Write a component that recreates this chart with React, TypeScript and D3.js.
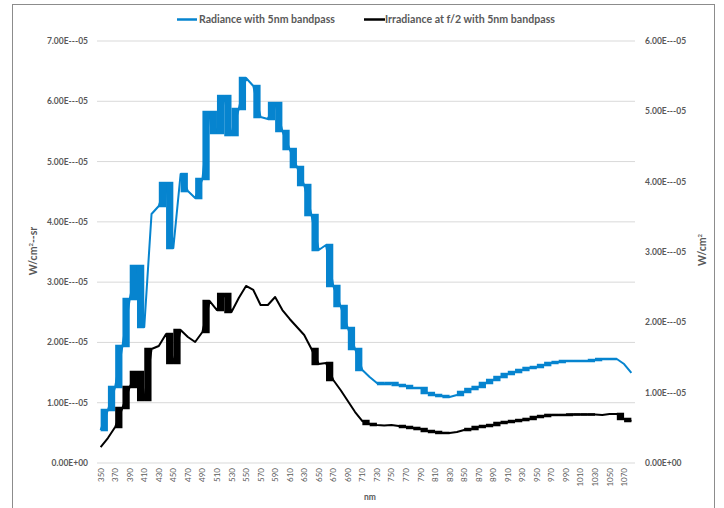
import React from 'react';
import * as d3 from 'd3';

// wavelength categories (nm)
const wavelengths = [
  350, 360, 370, 380, 390, 400, 410, 420, 430, 440, 450, 460, 470, 480, 490, 500, 510, 520, 530, 540,
  550, 560, 570, 580, 590, 600, 610, 620, 630, 640, 650, 660, 670, 680, 690, 700, 710, 720, 730, 740,
  750, 760, 770, 780, 790, 800, 810, 820, 830, 840, 850, 860, 870, 880, 890, 900, 910, 920, 930, 940,
  950, 960, 970, 980, 990, 1000, 1010, 1020, 1030, 1040, 1050, 1060, 1070, 1080,
];

// values in units of 1E-05
const radiance = [
  0.547, 0.879, 1.261, 1.941, 2.72, 3.268, 2.256, 4.13, 4.263, 4.644, 3.566, 4.793, 4.511, 4.395, 4.711,
  5.822, 5.474, 6.087, 5.44, 5.872, 6.386, 6.253, 5.739, 5.706, 5.971, 5.507, 5.208, 4.91, 4.611, 4.113,
  3.533, 3.616, 2.936, 2.604, 2.239, 1.891, 1.543, 1.426, 1.327, 1.31, 1.327, 1.294, 1.277, 1.244, 1.244,
  1.161, 1.128, 1.111, 1.095, 1.128, 1.178, 1.227, 1.261, 1.327, 1.377, 1.426, 1.476, 1.509, 1.543,
  1.576, 1.592, 1.625, 1.659, 1.675, 1.692, 1.692, 1.692, 1.692, 1.708, 1.725, 1.725, 1.725, 1.642, 1.493,
];

const irradiance = [
  0.227, 0.355, 0.512, 0.782, 1.081, 1.294, 0.896, 1.621, 1.664, 1.834, 1.422, 1.891, 1.792, 1.72, 1.863,
  2.303, 2.175, 2.403, 2.147, 2.346, 2.517, 2.46, 2.247, 2.247, 2.36, 2.175, 2.048, 1.934, 1.82, 1.621,
  1.408, 1.422, 1.18, 1.038, 0.882, 0.725, 0.597, 0.555, 0.54, 0.533, 0.54, 0.526, 0.512, 0.498, 0.483,
  0.455, 0.441, 0.427, 0.427, 0.441, 0.469, 0.483, 0.512, 0.526, 0.54, 0.569, 0.583, 0.597, 0.611,
  0.626, 0.654, 0.668, 0.683, 0.683, 0.683, 0.69, 0.69, 0.69, 0.69, 0.683, 0.697, 0.697, 0.626, 0.597,
];

// segments (start index) drawn as filled bands
const radianceBands = [
  0, 1, 2, 3, 4, 5, 8, 9, 11, 13, 14, 15, 16, 17, 18, 19, 21, 23, 24, 25, 26, 27, 28, 29, 31, 32, 33, 34, 35,
  38, 39, 40, 41, 42, 43, 44, 45, 46, 47, 49, 50, 51, 52, 53, 54, 55, 56, 57, 58, 59, 60, 61, 62, 63, 64, 65,
  66, 67, 68, 69, 70,
];
const irradianceBands = [
  2, 3, 4, 5, 6, 9, 10, 14, 16, 17, 29, 31, 36, 37, 41, 42, 43, 44, 45, 46, 47, 50, 51, 52, 53, 54, 55, 56,
  57, 58, 59, 60, 61, 62, 63, 64, 65, 66, 67, 71, 72,
];

const leftTicks = [0, 1, 2, 3, 4, 5, 6, 7];
const rightTicks = [0, 1, 2, 3, 4, 5, 6];

const seriesNames = ['Radiance with 5nm bandpass', 'Irradiance at f/2 with 5nm bandpass'];
const BLUE = '#0684cf';
const TEXT = '#595959';

const fmt = (v: number) => (v === 0 ? '0.00E+00' : `${v.toFixed(2)}E---05`);

export default function App() {
  const width = 724;
  const height = 508;
  const top = 41;
  const bottom = 463;

  const x = d3.scaleBand<number>().domain(wavelengths).range([97, 635]);
  const cx = (i: number) => (x(wavelengths[i]) as number) + x.bandwidth() / 2;
  const yL = d3.scaleLinear().domain([0, 7]).range([bottom, top]);
  const yR = d3.scaleLinear().domain([0, 6]).range([bottom, top]);

  const line = (y: d3.ScaleLinear<number, number>) =>
    d3
      .line<number>()
      .x((_, i) => cx(i))
      .y((d) => y(d));

  const bands = (vals: number[], idx: number[], y: d3.ScaleLinear<number, number>, sw: number, color: string) =>
    idx.map((i) => {
      const y0 = Math.min(y(vals[i]), y(vals[i + 1])) - sw / 2;
      const y1 = Math.max(y(vals[i]), y(vals[i + 1])) + sw / 2;
      return <rect key={i} x={cx(i)} y={y0} width={cx(i + 1) - cx(i)} height={y1 - y0} fill={color} />;
    });

  return (
    <svg
      width={width}
      height={height}
      style={{ position: 'absolute', left: 0, top: 0, background: '#fff' }}
      fontFamily="Lato, 'Noto Sans', sans-serif"
    >
      <rect x={12.5} y={4.5} width={702} height={520} fill="#fff" stroke="#8c8c8c" />

      {/* legend */}
      <g fontSize={10.5} fontWeight="bold" fill={TEXT}>
        <line x1={177} x2={197} y1={19.5} y2={19.5} stroke={BLUE} strokeWidth={2.5} />
        <text x={199} y={23.3} textLength={136} lengthAdjust="spacingAndGlyphs">{seriesNames[0]}</text>
        <line x1={364} x2={385} y1={19.5} y2={19.5} stroke="#000" strokeWidth={2.5} />
        <text x={385} y={23.3} textLength={170} lengthAdjust="spacingAndGlyphs">{seriesNames[1]}</text>
      </g>

      {/* gridlines */}
      {leftTicks.map((t) => (
        <line key={t} x1={97} x2={635} y1={yL(t)} y2={yL(t)} stroke="#d9d9d9" strokeWidth={1} />
      ))}

      {/* left axis labels */}
      <g fontSize={8.5} fontWeight="bold" fill={TEXT} textAnchor="end">
        {leftTicks.map((t) => (
          <text key={t} x={88} y={yL(t) + 3}>{fmt(t)}</text>
        ))}
      </g>
      {/* right axis labels */}
      <g fontSize={8.5} fontWeight="bold" fill={TEXT} textAnchor="start">
        {rightTicks.map((t) => (
          <text key={t} x={645} y={yR(t) + 3}>{fmt(t)}</text>
        ))}
      </g>

      {/* x labels */}
      <g fontSize={8} fill={TEXT} textAnchor="end">
        {wavelengths.map((w, i) =>
          i % 2 === 0 && i < 73 ? (
            <text key={w} transform={`translate(${cx(i) + 3},468) rotate(-90)`}>{w}</text>
          ) : null
        )}
      </g>

      {/* axis titles */}
      <text x={370} y={500} fontSize={8.5} fontWeight="bold" fill={TEXT} textAnchor="middle">nm</text>
      <text transform="translate(37,251) rotate(-90)" fontSize={10.5} fontWeight="bold" fill={TEXT} textAnchor="middle">
        W/cm<tspan fontSize={6} dy={-4}>2</tspan><tspan dy={4}>--sr</tspan>
      </text>
      <text transform="translate(706,250) rotate(-90)" fontSize={10.5} fontWeight="bold" fill={TEXT} textAnchor="middle">
        W/cm<tspan fontSize={6} dy={-4}>2</tspan>
      </text>

      {/* series */}
      <path d={line(yL)(radiance) || ''} fill="none" stroke={BLUE} strokeWidth={2} strokeLinejoin="round" />
      {bands(radiance, radianceBands, yL, 2.5, BLUE)}
      <path d={line(yR)(irradiance) || ''} fill="none" stroke="#000" strokeWidth={2} strokeLinejoin="round" />
      {bands(irradiance, irradianceBands, yR, 2.5, '#000')}
    </svg>
  );
}
